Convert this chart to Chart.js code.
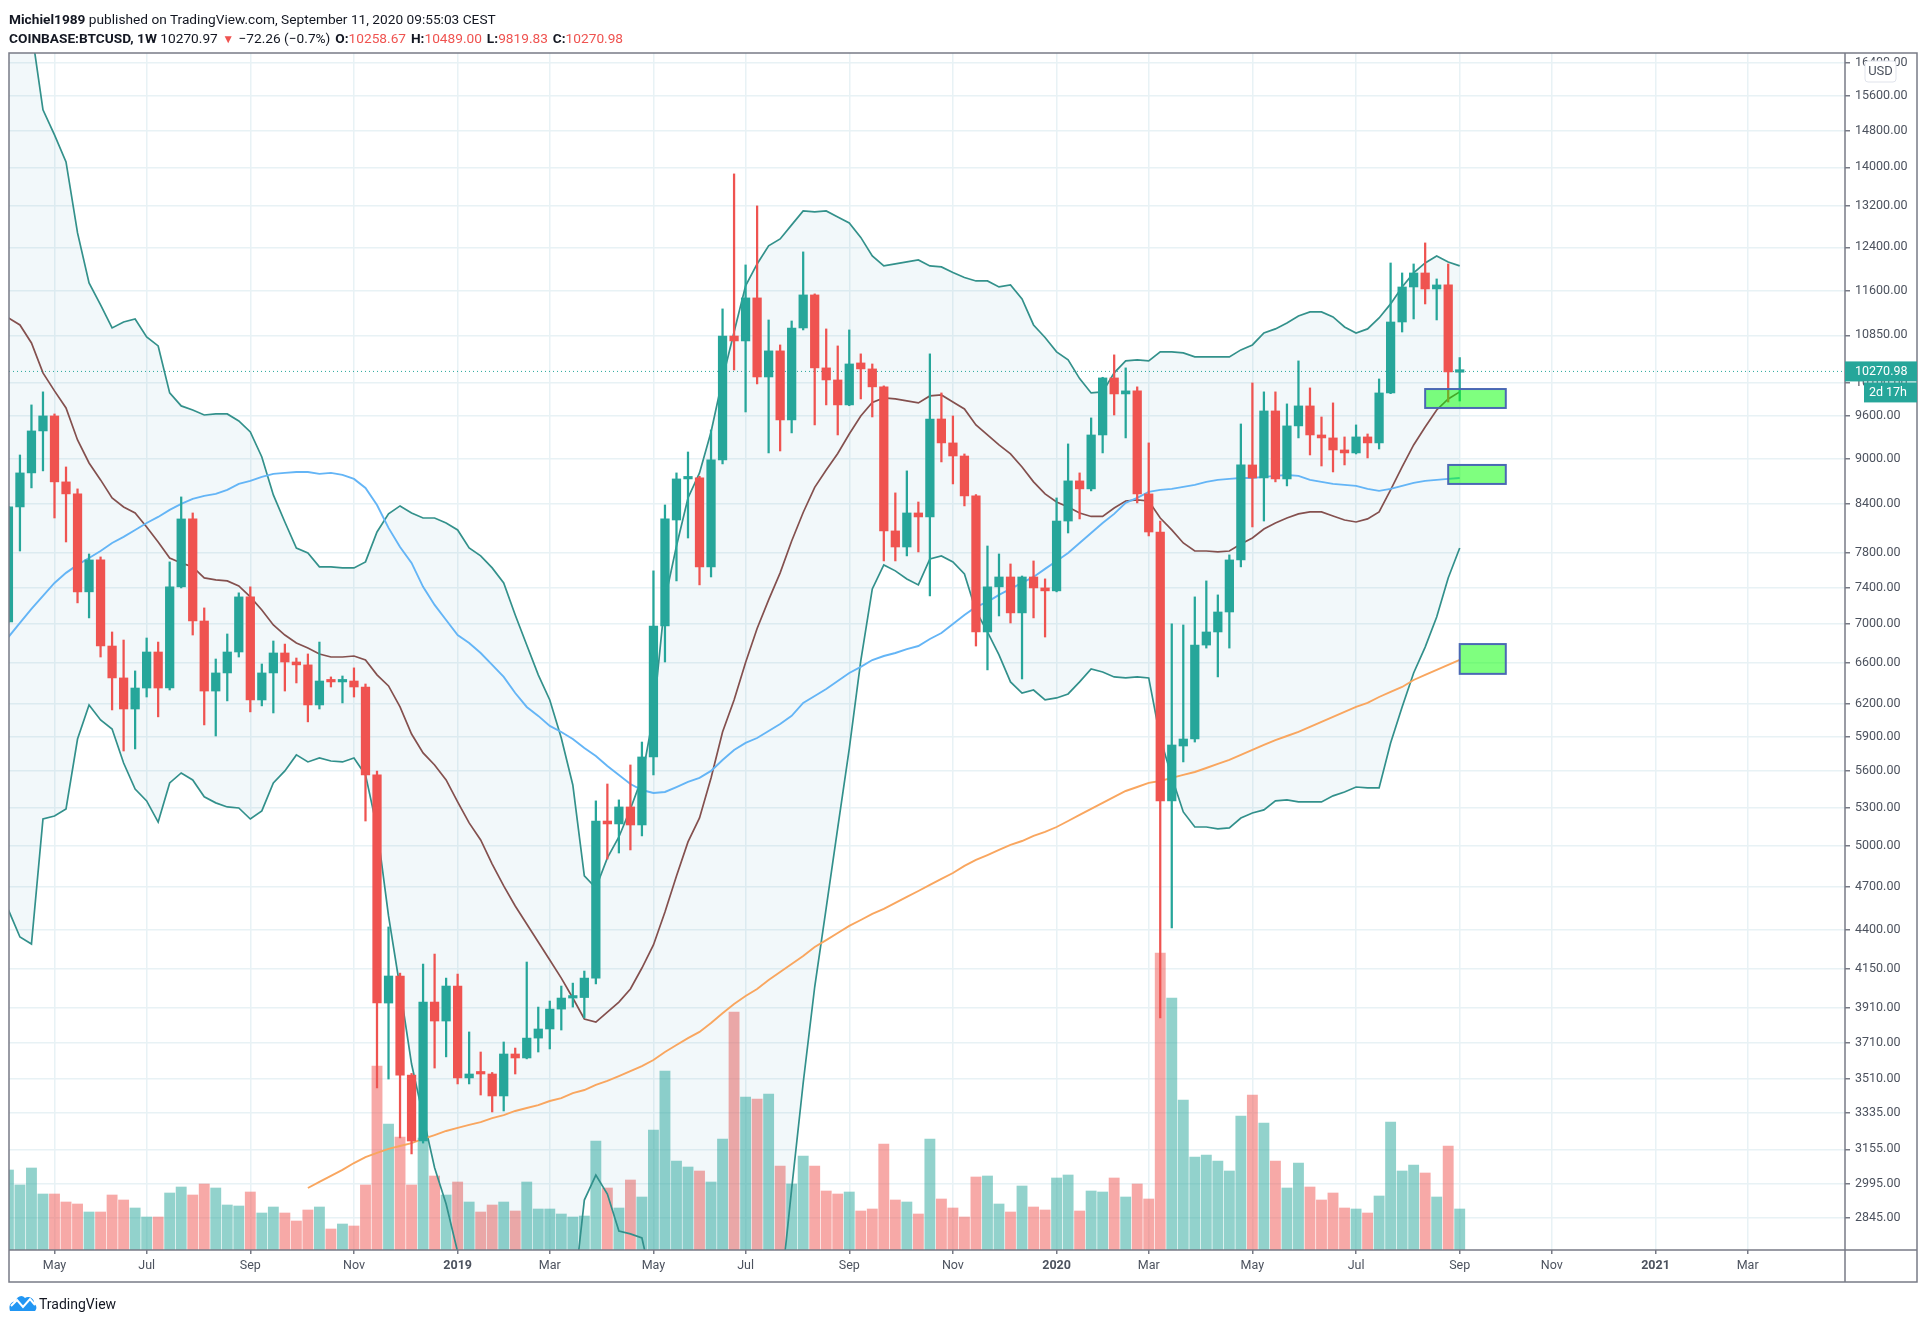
<!DOCTYPE html>
<html>
<head>
<meta charset="utf-8">
<title>BTCUSD weekly</title>
<script src="https://cdn.jsdelivr.net/npm/chart.js@4/dist/chart.umd.min.js"></script>
<style>
  html, body { margin: 0; padding: 0; background: #fff; }
  #wrap { position: relative; width: 1928px; height: 1326px; overflow: hidden; }
  canvas { position: absolute; left: 0; top: 0; }
  .hdr { position: absolute; left: 9px; font: 13.7px Roboto, sans-serif; color: #131722; white-space: nowrap; }
  .hdr b { font-weight: 700; }
  .hdr i { font-style: normal; font-weight: 700; margin-left: 1.5px; }
  .red { color: #ef5350; }
  .tri { font-size: 12px; line-height: 0; margin: 0 1px; }
  #brand { position: absolute; left: 39px; top: 1296px; font: 14px Roboto, sans-serif; color: #131722; }
  #logo { position: absolute; left: 9px; top: 1293px; }
</style>
</head>
<body>
<div id="wrap">
  <canvas id="chart" width="1928" height="1326"></canvas>
  <div class="hdr" style="top:11px"><b>Michiel1989</b> published on TradingView.com, September 11, 2020 09:55:03 CEST</div>
  <div class="hdr" style="top:30px"><b>COINBASE:BTCUSD, 1W</b> 10270.97 <span class="red tri">▼</span> −72.26 (−0.7%) <i>O:</i><span class="red">10258.67</span> <i>H:</i><span class="red">10489.00</span> <i>L:</i><span class="red">9819.83</span> <i>C:</i><span class="red">10270.98</span></div>
  <svg id="logo" width="28" height="19" viewBox="0 0 28 19">
    <path d="M1 18 C-1 12 3 8 6 9 C8 3 13 1 16 5 C20 2 26 6 25 11 C28 12 28 16 26 18 Z" fill="#2196f3"/>
    <path d="M2 13 L8 7 L14 14 L21 6 L26 12" fill="none" stroke="#fff" stroke-width="2"/>
  </svg>
  <div id="brand">TradingView</div>
</div>
<script>
const opens = [7023,8362,8805,9384,9600,8686,8529,7351,7716,6771,6451,6154,6353,6710,6353,7407,8211,7033,6324,6500,6710,7295,6239,6500,6700,6609,6580,6192,6421,6412,6421,6363,5568,3939,4104,3531,3195,3945,3833,4042,3516,3542,3537,3421,3646,3624,3735,3787,3903,3969,3972,4091,5192,5169,5304,5161,5722,6980,8198,8725,8738,7635,8980,10838,10757,11483,10185,10596,9542,10971,11535,10326,10139,9762,10404,10310,10033,8063,7869,8286,8236,9556,9215,9034,8503,6917,7407,7519,7120,7519,7395,7362,8185,8699,8594,9327,10170,9926,9972,8529,8050,5353,5818,5880,6781,6917,7130,7716,8912,8738,9673,8725,9456,9747,9327,9285,9117,9076,9299,9215,9941,11071,11675,11926,11640,11711,10258.67];
const highs = [8370,9048,9762,9957,9629,8885,8594,7786,7751,6917,6833,6520,6854,6812,7693,8490,8286,7174,6639,6896,7340,7407,6589,6823,6791,6649,6690,6812,6461,6470,6550,6392,5600,4421,4122,3540,4179,4243,4091,4116,3770,3657,3545,3713,3679,4192,3915,3951,4042,4060,4135,5353,5492,5361,5653,5853,7589,8387,8805,9089,8760,9398,11293,13860,12072,13203,11105,10692,11088,12313,11553,10955,10676,10938,10548,10388,10048,8542,8832,8425,10548,9941,9600,9062,8520,7881,7786,7669,7530,7704,7497,8477,9201,8805,9571,10180,10532,10326,10033,9215,8185,7002,6991,7295,7474,7317,7775,9484,10093,9957,9957,9777,10436,10017,9585,9792,9299,9470,9341,10154,12108,11926,12090,12482,11818,12090,10489];
const lows = [7020,7821,8607,8832,8223,7929,7229,7066,6659,6145,5774,5792,6267,6081,6334,7395,6885,6007,5907,6230,6659,6127,6183,6117,6324,6402,6035,6154,6363,6211,6267,5192,3463,3510,3210,3133,3185,3569,3630,3484,3484,3426,3339,3344,3537,3619,3657,3674,3781,3915,3851,4055,4901,4946,4969,5076,5568,6609,7474,7977,7429,7519,8926,10294,9658,10078,9076,9103,9356,10938,9470,9762,9327,9750,9851,9585,7704,7704,7763,7810,7306,8953,8659,8375,6771,6530,7087,7012,6441,7066,6864,7351,8038,8211,8568,9076,9614,9285,8413,8002,3851,4414,5679,5853,6750,6461,6750,7635,8112,8185,8686,8633,9285,9048,8898,8818,8912,9062,9007,9131,9930,10904,11122,11378,11105,9805,9819.83];
const closes = [8362,8805,9384,9600,8686,8529,7351,7716,6771,6451,6154,6353,6710,6353,7407,8211,7033,6324,6500,6710,7295,6239,6500,6700,6609,6580,6192,6421,6412,6426,6363,5568,3939,4104,3531,3195,3945,3833,4042,3516,3537,3537,3421,3646,3624,3735,3787,3903,3969,3972,4091,5192,5169,5304,5161,5722,6980,8211,8725,8738,7635,8980,10838,10757,11483,10185,10596,9542,10971,11535,10326,10139,9762,10388,10310,10033,8063,7869,8286,8236,9556,9215,9034,8503,6917,7407,7519,7120,7519,7395,7362,8185,8699,8594,9327,10170,9926,9972,8529,8050,5353,5827,5880,6781,6917,7130,7716,8912,8738,9673,8725,9456,9747,9327,9285,9117,9076,9299,9215,9941,11071,11675,11926,11640,11711,10262,10270.98];
// no volume scale in the picture, so these are relative units
const volume = [80,65,82,56,56,48,46,38,38,55,50,42,33,33,57,63,55,66,62,45,44,58,37,43,37,29,40,43,21,26,24,65,184,126,113,65,112,74,55,68,48,38,45,48,39,68,41,41,36,33,34,109,62,42,70,53,120,179,89,83,79,68,111,238,153,151,156,84,66,94,84,59,56,58,39,41,106,50,48,36,111,51,42,33,73,74,46,38,64,43,40,72,75,39,59,58,72,53,66,51,297,252,150,93,95,89,79,134,155,127,89,62,87,63,50,57,42,41,37,54,128,79,85,77,53,104,41];
const bbUpper = [20000,19180,17252,15275,14705,14114,12673,11747,11362,10971,11071,11122,10822,10676,9941,9747,9688,9614,9629,9629,9528,9370,9021,8516,8173,7857,7798,7635,7635,7623,7623,7693,8050,8274,8375,8286,8223,8223,8161,8075,7857,7763,7623,7451,7098,6781,6481,6239,5889,5484,4777,4690,4909,5068,5288,5543,6099,7262,7881,8477,8805,9370,10154,10904,11694,12090,12426,12558,12828,13103,13083,13103,12985,12867,12587,12238,12054,12090,12127,12164,12054,12036,11936,11845,11782,11782,11676,11711,11465,11021,10814,10580,10452,10160,9941,9957,10248,10436,10452,10436,10580,10580,10564,10500,10500,10500,10500,10612,10692,10888,10955,11054,11173,11242,11242,11156,10988,10888,10955,11139,11379,11676,11926,12108,12238,12127,12054];
const bbLower = [4537,4354,4308,5208,5232,5288,5880,6192,6053,5970,5670,5450,5353,5184,5501,5585,5526,5386,5337,5304,5296,5208,5272,5501,5602,5740,5679,5713,5687,5679,5713,5568,5138,4496,4030,3591,3318,3068,2904,2700,2000,2000,2000,2000,2000,2000,2000,2000,2000,2495,2921,3034,2948,2787,2775,2758,2549,2000,2000,2000,2000,2000,2000,2000,2000,2000,2000,2513,2971,3489,4036,4551,5138,5792,6619,7384,7658,7589,7497,7429,7728,7763,7693,7554,7141,6917,6680,6412,6305,6334,6239,6258,6296,6412,6540,6510,6461,6451,6461,6451,5889,5551,5264,5145,5145,5130,5138,5216,5256,5280,5353,5361,5345,5345,5345,5394,5426,5467,5459,5459,5845,6173,6500,6760,7076,7508,7857];
const bbBasis = [11139,11021,10724,10248,9972,9717,9257,8939,8712,8477,8362,8286,8112,7929,7739,7681,7635,7508,7485,7474,7418,7295,7152,6991,6885,6802,6750,6690,6659,6659,6669,6629,6481,6373,6173,5925,5757,5653,5526,5345,5177,5045,4864,4705,4564,4441,4321,4205,4091,3969,3845,3827,3885,3945,4024,4154,4302,4523,4777,5030,5216,5543,5943,6239,6604,6953,7262,7566,7941,8292,8614,8845,9068,9341,9600,9799,9866,9851,9821,9792,9896,9911,9806,9703,9470,9327,9187,9062,8885,8686,8529,8425,8362,8286,8242,8242,8349,8438,8451,8438,8223,8075,7917,7821,7821,7810,7821,7905,7977,8087,8161,8223,8274,8299,8299,8248,8198,8173,8211,8299,8581,8885,9187,9441,9688,9851,9957];
const maBlue = [6864,7012,7163,7306,7451,7566,7658,7739,7821,7917,7990,8075,8161,8236,8324,8400,8464,8503,8529,8581,8659,8699,8752,8792,8805,8818,8818,8792,8805,8778,8725,8607,8387,8100,7869,7681,7407,7207,7044,6885,6802,6700,6580,6461,6305,6173,6090,5998,5943,5880,5800,5731,5644,5568,5492,5442,5418,5426,5467,5509,5543,5602,5696,5783,5845,5889,5952,6016,6090,6211,6277,6344,6421,6500,6560,6629,6669,6700,6740,6771,6844,6906,7002,7098,7185,7240,7317,7384,7451,7519,7612,7704,7798,7917,8038,8161,8274,8413,8477,8555,8581,8594,8620,8646,8686,8712,8725,8738,8738,8752,8765,8778,8765,8712,8686,8659,8646,8633,8594,8568,8594,8633,8673,8699,8712,8725,8738];
const maOrange = [null,null,null,null,null,null,null,null,null,null,null,null,null,null,null,null,null,null,null,null,null,null,null,null,null,null,2975,3003,3030,3058,3090,3118,3138,3157,3171,3185,3205,3224,3244,3259,3274,3288,3308,3323,3344,3359,3374,3395,3410,3436,3452,3479,3500,3526,3553,3580,3613,3657,3696,3735,3770,3822,3879,3933,3981,4024,4079,4129,4179,4230,4289,4334,4381,4428,4468,4510,4544,4585,4627,4669,4712,4755,4798,4850,4894,4931,4969,5007,5037,5076,5107,5145,5192,5240,5288,5337,5386,5434,5467,5501,5517,5543,5568,5593,5627,5662,5696,5740,5783,5827,5871,5907,5943,5989,6035,6081,6127,6173,6211,6267,6315,6363,6431,6481,6530,6580,6629];

const priceTicks = [16400,15600,14800,14000,13200,12400,11600,10850,10100,9600,9000,8400,7800,7400,7000,6600,6200,5900,5600,5300,5000,4700,4400,4150,3910,3710,3510,3335,3155,2995,2845];
const timeTickBars = [4,12,21,30,39,47,56,64,73,82,91,99,108,117,126,134,143,151];
const timeTickLabels = ['May','Jul','Sep','Nov','2019','Mar','May','Jul','Sep','Nov','2020','Mar','May','Jul','Sep','Nov','2021','Mar'];
const lastPrice = 10270.98;
const countdown = '2d 17h';
// support boxes: first bar, last bar, top price, bottom price
const boxBarFrom = [123,125,126];
const boxBarTo = [130,130,130];
const boxTop = [10000,8912,6791];
const boxBottom = [9717,8659,6491];

const GREEN = '#26a69a', RED = '#ef5350';
const XMIN = 0.05, XMAX = 159.45;
const axisFont = { family: 'Roboto, sans-serif', size: 12.5 };

const bodyColors = closes.map((c, i) => c >= opens[i] ? GREEN : RED);
const volColors = closes.map((c, i) => c >= opens[i] ? 'rgba(38,166,154,0.5)' : 'rgba(239,83,80,0.5)');
const series = arr => arr.map((v, i) => ({ x: i, y: v }));
const line = (label, data, color, order, extra) => Object.assign({
  type: 'line', label, data: series(data), borderColor: color, borderWidth: 1.7,
  pointRadius: 0, tension: 0, fill: false, yAxisID: 'y', order
}, extra || {});

const overlay = {
  id: 'overlay',
  afterDatasetsDraw(chart) {
    const { ctx, scales: { x, y } } = chart;
    ctx.save();
    boxTop.forEach((top, i) => {
      const x1 = x.getPixelForValue(boxBarFrom[i]), x2 = x.getPixelForValue(boxBarTo[i]);
      const y1 = y.getPixelForValue(top), y2 = y.getPixelForValue(boxBottom[i]);
      ctx.fillStyle = 'rgba(0,255,0,0.5)';
      ctx.fillRect(x1, y1, x2 - x1, y2 - y1);
      ctx.strokeStyle = '#4a68b4';
      ctx.lineWidth = 2;
      ctx.strokeRect(x1, y1, x2 - x1, y2 - y1);
    });
    ctx.restore();
  },
  afterDraw(chart) {
    const { ctx, chartArea: a, scales: { y } } = chart;
    const right = 1917, bottom = 1282;
    ctx.save();
    // frame
    ctx.strokeStyle = '#787b86';
    ctx.lineWidth = 1.5;
    ctx.strokeRect(a.left, a.top, right - a.left, bottom - a.top);
    ctx.beginPath();
    ctx.moveTo(a.left, a.bottom); ctx.lineTo(right, a.bottom);
    ctx.moveTo(a.right, a.top); ctx.lineTo(a.right, bottom);
    ctx.stroke();
    // last price and countdown labels
    const py = y.getPixelForValue(lastPrice);
    ctx.fillStyle = GREEN;
    ctx.fillRect(a.right, py - 10, right - a.right, 20);
    ctx.fillRect(1864, py + 11, right - 1864, 20);
    ctx.fillStyle = '#fff';
    ctx.font = '12.5px Roboto, sans-serif';
    ctx.textBaseline = 'middle';
    ctx.textAlign = 'left';
    ctx.fillText(lastPrice.toFixed(2), 1855, py);
    ctx.textAlign = 'right';
    ctx.fillText(countdown, 1907, py + 21);
    // currency badge
    ctx.fillStyle = '#fff';
    ctx.strokeStyle = '#e0e3eb';
    ctx.lineWidth = 1;
    ctx.beginPath();
    ctx.roundRect(1865, 61, 31, 21, 3);
    ctx.fill(); ctx.stroke();
    ctx.fillStyle = '#4c525e';
    ctx.font = '13px Roboto, sans-serif';
    ctx.textAlign = 'center';
    ctx.fillText('USD', 1880.5, 71.5);
    ctx.restore();
  }
};

new Chart(document.getElementById('chart'), {
  data: {
    datasets: [
      { type: 'bar', label: 'Body', data: opens.map((o, i) => ({ x: i, y: [o, closes[i]] })), backgroundColor: bodyColors, barThickness: 8.6, minBarLength: 2.5, yAxisID: 'y', order: 1, grouped: false },
      { type: 'bar', label: 'Wick', data: lows.map((l, i) => ({ x: i, y: [l, highs[i]] })), backgroundColor: bodyColors, barThickness: 1.6, yAxisID: 'y', order: 2, grouped: false },
      line('Last price', [], GREEN, 3, { data: [{ x: XMIN, y: lastPrice }, { x: XMAX, y: lastPrice }], borderWidth: 1, borderDash: [1, 3] }),
      line('MA orange', maOrange, '#f9a65f', 4, { borderWidth: 1.9 }),
      line('MA blue', maBlue, '#64b5f6', 5, { borderWidth: 1.9 }),
      line('Basis', bbBasis, '#84504e', 6),
      line('Upper', bbUpper, '#33918b', 7, { fill: '+1', backgroundColor: 'rgba(33,128,170,0.06)' }),
      line('Lower', bbLower, '#33918b', 8),
      { type: 'bar', label: 'Volume', data: series(volume), backgroundColor: volColors, barThickness: 10.2, yAxisID: 'yVol', order: 9, grouped: false }
    ]
  },
  options: {
    responsive: false,
    devicePixelRatio: 1,
    animation: false,
    layout: { padding: { left: 9, top: 53, right: 11, bottom: 44 } },
    plugins: { legend: { display: false }, tooltip: { enabled: false }, title: { display: false } },
    scales: {
      x: {
        type: 'linear', min: XMIN, max: XMAX, offset: false,
        afterBuildTicks: s => { s.ticks = timeTickBars.map(v => ({ value: v })); },
        afterFit: s => { s.height = 32; },
        grid: { offset: false, color: '#e8f2f5', lineWidth: 1.5, tickColor: '#787b86', tickLength: 4 },
        border: { display: false },
        ticks: {
          autoSkip: false, maxRotation: 0, minRotation: 0, padding: 4, color: '#4c525e',
          font: c => {
            const lab = timeTickLabels[timeTickBars.indexOf(c.tick && c.tick.value)];
            return Object.assign({}, axisFont, { weight: /^20/.test(lab || '') ? 'bold' : 'normal' });
          },
          callback: v => timeTickLabels[timeTickBars.indexOf(v)]
        }
      },
      y: {
        type: 'logarithmic', position: 'right', min: 2708, max: 16651,
        afterBuildTicks: s => { s.ticks = priceTicks.map(v => ({ value: v })); },
        afterFit: s => { s.width = 72; },
        grid: { color: '#e8f2f5', lineWidth: 1.5, tickColor: '#787b86', tickLength: 5 },
        border: { display: false },
        ticks: { autoSkip: false, padding: 5, color: '#4c525e', font: axisFont, callback: v => Number(v).toFixed(2) }
      },
      yVol: { type: 'linear', display: false, min: 0, max: 1197 }
    }
  },
  plugins: [overlay]
});
</script>
</body>
</html>
